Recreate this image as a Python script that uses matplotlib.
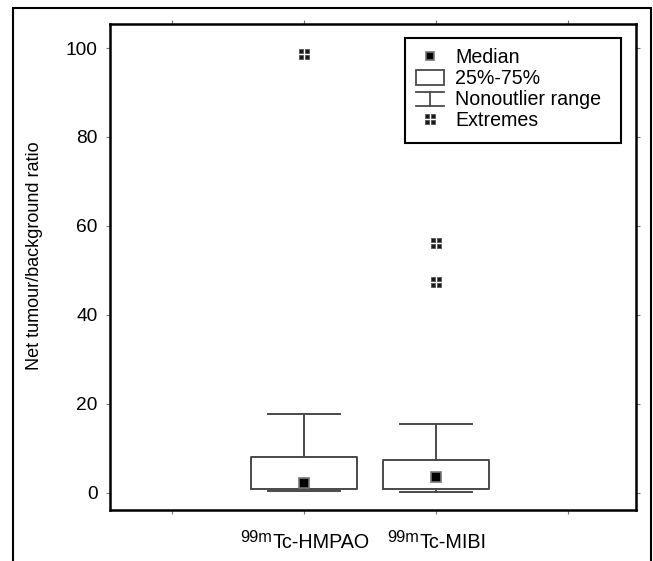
import matplotlib
matplotlib.use("Agg")
import matplotlib.pyplot as plt
import numpy as np
from matplotlib.path import Path
from matplotlib.lines import Line2D
from matplotlib.patches import Rectangle
from matplotlib.legend_handler import HandlerBase

plt.rcParams['font.family'] = ['Liberation Sans', 'DejaVu Sans']

# ---- data ----
categories = ["Tc-HMPAO", "Tc-MIBI"]
cat_sup = ["99m", "99m"]
medians = [2.2, 3.5]
q1 = [0.76, 0.83]
q3 = [8.1, 7.3]
whisk_lo = [0.3, 0.1]
whisk_hi = [17.7, 15.5]
extremes = [[98.6], [56.2, 47.3]]
positions = [1, 2]
tick_positions = [0, 1, 2, 3]
y_ticks = [0, 20, 40, 60, 80, 100]
ylabel = "Net tumour/background ratio"
legend_labels = ["Median", "25%-75%", "Nonoutlier range", "Extremes"]

DPI = 100
fig = plt.figure(figsize=(6.53, 5.61), dpi=DPI)
W, H = 653, 561
AX_L, AX_R, AX_T, AX_B = 110, 636, 24, 510
ax = fig.add_axes([AX_L / W, 1 - AX_B / H, (AX_R - AX_L) / W, (AX_B - AX_T) / H])


def axfx(px):
    return (px - AX_L) / (AX_R - AX_L)


def axfy(py):
    return (AX_B - py) / (AX_B - AX_T)


# extremes marker: four small squares
s = 0.85
g = 0.14
verts, codes = [], []
for cx in (-1, 1):
    for cy in (-1, 1):
        x0 = g if cx > 0 else -s
        x1 = s if cx > 0 else -g
        y0 = g if cy > 0 else -s
        y1 = s if cy > 0 else -g
        verts += [(x0, y0), (x1, y0), (x1, y1), (x0, y1), (x0, y0)]
        codes += [Path.MOVETO, Path.LINETO, Path.LINETO, Path.LINETO, Path.CLOSEPOLY]
ext_marker = Path(verts, codes)

box_col = "#4a4a4a"
stats = []
for i in range(len(categories)):
    stats.append(dict(med=medians[i], q1=q1[i], q3=q3[i], whislo=whisk_lo[i],
                      whishi=whisk_hi[i], fliers=extremes[i], label=categories[i]))

ax.bxp(stats, positions=positions, widths=0.8, capwidths=0.54,
       boxprops=dict(color=box_col, linewidth=1.4),
       whiskerprops=dict(color=box_col, linewidth=1.4),
       capprops=dict(color=box_col, linewidth=1.4),
       medianprops=dict(linestyle="none"),
       flierprops=dict(marker=ext_marker, markersize=7.5, markerfacecolor="#1a1a1a",
                       markeredgecolor="#555555", markeredgewidth=0.6, linestyle="none"),
       manage_ticks=False)
ax.plot(positions, medians, linestyle="none", marker="s", markersize=6.5,
        markerfacecolor="black", markeredgecolor="#777777", markeredgewidth=1.2, zorder=5)

ax.set_xlim(-0.47, 3.515)
ax.set_ylim(-3.9, 105.4)
ax.set_yticks(y_ticks)
ax.set_xticks(tick_positions)
ax.set_xticklabels([""] * len(tick_positions))
ax.tick_params(axis="both", which="both", direction="out", length=3, width=0.8,
               color="#777777", top=True, right=True, labelsize=13.8, pad=3)
ax.tick_params(axis="y", pad=6)
for sp in ax.spines.values():
    sp.set_linewidth(1.8)
    sp.set_color("black")
ax.set_ylabel(ylabel, fontsize=13)
ax.yaxis.set_label_coords(axfx(43), axfy(256))

# x labels with superscript
xt = ax.get_xaxis_transform()
main_texts, sup_texts = [], []
for p, c, sp_ in zip(positions, categories, cat_sup):
    t = ax.annotate(c, xy=(p, 0), xycoords=xt, xytext=(0, -38), textcoords="offset pixels",
                    ha="left", va="baseline", fontsize=14.2)
    su = ax.annotate(sp_, xy=(p, 0), xycoords=xt, xytext=(0, -32.5), textcoords="offset pixels",
                     ha="left", va="baseline", fontsize=11.8)
    main_texts.append(t)
    sup_texts.append(su)
fig.canvas.draw()
r = fig.canvas.get_renderer()
for t, su in zip(main_texts, sup_texts):
    wm = t.get_window_extent(r).width
    ws = su.get_window_extent(r).width
    tot = wm + ws
    su.xyann = (-tot / 2 + 1, -32.5)
    t.xyann = (-tot / 2 + ws + 1, -38)


# legend
class WhiskerHandler(HandlerBase):
    def create_artists(self, legend, orig_handle, xdescent, ydescent, width, height, fontsize, trans):
        top = height * 0.95
        bot = -height * 0.1
        cx = width / 2 - xdescent
        l1 = Line2D([-xdescent, width - xdescent], [top, top], color=box_col, lw=1.3, transform=trans)
        l2 = Line2D([cx, cx], [top, bot], color=box_col, lw=1.3, transform=trans)
        l3 = Line2D([-xdescent, width - xdescent], [bot, bot], color=box_col, lw=1.3, transform=trans)
        return [l1, l2, l3]


class BoxHandler(HandlerBase):
    def create_artists(self, legend, orig_handle, xdescent, ydescent, width, height, fontsize, trans):
        rect = Rectangle((-xdescent, -height * 0.1), width, height * 1.15, facecolor="white",
                         edgecolor=box_col, lw=1.3, transform=trans)
        return [rect]


h_med = Line2D([], [], linestyle="none", marker="s", markersize=5.5, markerfacecolor="black",
               markeredgecolor="#777777", markeredgewidth=1.2)
h_box = Rectangle((0, 0), 1, 1)
h_whisk = Line2D([], [])
h_ext = Line2D([], [], linestyle="none", marker=ext_marker, markersize=7, markerfacecolor="#1a1a1a",
               markeredgecolor="#555555", markeredgewidth=0.6)

LEG_FS = 14.1
leg = ax.legend([h_med, h_box, h_whisk, h_ext], legend_labels,
                handler_map={h_box: BoxHandler(), h_whisk: WhiskerHandler()},
                loc="upper left", bbox_to_anchor=(axfx(416), axfy(48)), borderaxespad=0,
                borderpad=0, fontsize=LEG_FS, frameon=False,
                handlelength=1.45, handletextpad=0.55, labelspacing=0.1,
                numpoints=1)
ax.add_patch(Rectangle((axfx(405), axfy(143)), axfx(621) - axfx(405), axfy(38) - axfy(143),
                       transform=ax.transAxes, fill=False, edgecolor="black", linewidth=1.5,
                       zorder=6))

# outer frame
fig.patches.append(Rectangle((13 / W, -0.05), (651 - 13) / W, 1.05 - 8 / H, transform=fig.transFigure,
                             fill=False, edgecolor="black", linewidth=1.5))

fig.savefig("out.png", dpi=DPI, facecolor="white")
